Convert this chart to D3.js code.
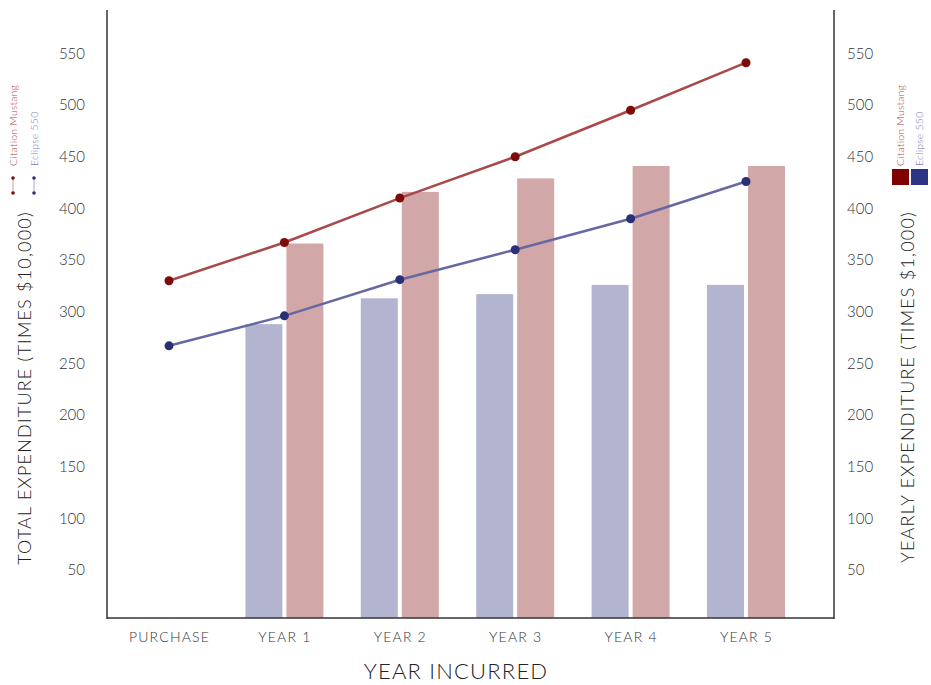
<!DOCTYPE html>
<html><head><meta charset="utf-8">
<script src="https://cdn.jsdelivr.net/npm/d3@7"></script>
<style>
body{margin:0;background:#fff;}
text{font-family:"Lato","Open Sans",sans-serif;font-weight:300;}
</style></head>
<body><svg id="c" width="931" height="685"></svg>
<script>
const categories = ["PURCHASE","YEAR 1","YEAR 2","YEAR 3","YEAR 4","YEAR 5"];
const seriesNames = ["Citation Mustang","Eclipse 550"];
const totalMustang = [330, 367, 410, 450, 495, 541];
const totalEclipse = [267, 296, 331, 360, 390, 426];
const yearlyMustang = [null, 366, 416, 429, 441, 441];
const yearlyEclipse = [null, 288, 313, 317, 326, 326];
const yTicks = [50,100,150,200,250,300,350,400,450,500,550];

(function(){
const svg = d3.select("#c");
const L = 107, R = 834, T = 10, B = 618;
const x = d3.scalePoint().domain(categories).range([169, 746]);
const y = d3.scaleLinear().domain([0, 592]).range([621.7, T]);
const yR = d3.scaleLinear().domain([0, 592]).range([621.7, T]);

const cBarE = "#b3b5d0", cBarM = "#d2a7a7";
const cLineM = "#a84a4a", cLineE = "#6668a3";
const cPtM = "#7f0a0a", cPtE = "#2b2f78";
const txt = "#333";

// bars
const bw = 37, gap = 4;
categories.forEach((c,i)=>{
  if (yearlyEclipse[i] != null) {
    svg.append("rect").attr("x", x(c)-gap/2-bw).attr("y", yR(yearlyEclipse[i]))
      .attr("width", bw).attr("height", B - yR(yearlyEclipse[i])).attr("fill", cBarE);
  }
  if (yearlyMustang[i] != null) {
    svg.append("rect").attr("x", x(c)+gap/2).attr("y", yR(yearlyMustang[i]))
      .attr("width", bw).attr("height", B - yR(yearlyMustang[i])).attr("fill", cBarM);
  }
});

// lines
const line = d3.line().x((d,i)=>x(categories[i])).y(d=>y(d));
svg.append("path").datum(totalMustang).attr("d", line).attr("fill","none").attr("stroke",cLineM).attr("stroke-width",2.5);
svg.append("path").datum(totalEclipse).attr("d", line).attr("fill","none").attr("stroke",cLineE).attr("stroke-width",2.5);
svg.selectAll(".pm").data(totalMustang).enter().append("circle").attr("cx",(d,i)=>x(categories[i])).attr("cy",d=>y(d)).attr("r",4.5).attr("fill",cPtM);
svg.selectAll(".pe").data(totalEclipse).enter().append("circle").attr("cx",(d,i)=>x(categories[i])).attr("cy",d=>y(d)).attr("r",4.5).attr("fill",cPtE);

// axes
const axL = d3.axisLeft(y).tickValues(yTicks).tickSize(0).tickPadding(22);
const gL = svg.append("g").attr("transform",`translate(${L},0)`).call(axL);
gL.select(".domain").remove();
gL.selectAll("text").attr("fill",txt).style("font-size","15px").style("font-family","Lato").style("font-weight",300);
const axR = d3.axisRight(yR).tickValues(yTicks).tickSize(0).tickPadding(13);
const gR = svg.append("g").attr("transform",`translate(${R},0)`).call(axR);
gR.select(".domain").remove();
gR.selectAll("text").attr("fill",txt).style("font-size","15px").style("font-family","Lato").style("font-weight",300);
const axB = d3.axisBottom(x).tickSize(0).tickPadding(14);
const gB = svg.append("g").attr("transform",`translate(0,${B})`).call(axB);
gB.select(".domain").remove();
gB.selectAll("text").attr("fill",txt).style("font-size","14px").style("font-family","Lato").style("font-weight",300)
  .style("letter-spacing","1.2px");

svg.append("line").attr("x1",L).attr("x2",L).attr("y1",T).attr("y2",B+1).attr("stroke","#333").attr("stroke-width",1.5);
svg.append("line").attr("x1",R).attr("x2",R).attr("y1",T).attr("y2",B+1).attr("stroke","#333").attr("stroke-width",1.5);
svg.append("line").attr("x1",L).attr("x2",R).attr("y1",B).attr("y2",B).attr("stroke","#333").attr("stroke-width",1.5);

// titles
svg.append("text").attr("x",456).attr("y",679).attr("text-anchor","middle").attr("fill","#222")
  .style("font-size","22px").style("letter-spacing","1.2px").text("YEAR INCURRED");
svg.append("text").attr("transform","translate(31,388) rotate(-90)").attr("text-anchor","middle").attr("fill","#222")
  .style("font-size","18px").style("letter-spacing","1.2px").text("TOTAL EXPENDITURE (TIMES $10,000)");
svg.append("text").attr("transform","translate(914,387) rotate(-90)").attr("text-anchor","middle").attr("fill","#222")
  .style("font-size","18px").style("letter-spacing","1.2px").text("YEARLY EXPENDITURE (TIMES $1,000)");

// left legend
const legCols = [cPtM, cPtE], legText = ["#b04848","#7a7ab8"];
seriesNames.forEach((n,i)=>{
  const lx = 13 + i*21;
  svg.append("text").attr("transform",`translate(${lx+3.5},166) rotate(-90)`).attr("fill",legText[i])
    .style("font-size","10.5px").style("letter-spacing","0.2px").text(n);
  svg.append("line").attr("x1",lx).attr("x2",lx).attr("y1",178).attr("y2",193).attr("stroke",legCols[i]).attr("stroke-width",0.8).attr("stroke-opacity",0.5);
  svg.append("circle").attr("cx",lx).attr("cy",178).attr("r",1.8).attr("fill",legCols[i]);
  svg.append("circle").attr("cx",lx).attr("cy",193).attr("r",1.8).attr("fill",legCols[i]);
});
// right legend
const sqCols = ["#800000","#2e3484"];
seriesNames.forEach((n,i)=>{
  const lx = 900 + i*19;
  svg.append("text").attr("transform",`translate(${lx+3.5},166) rotate(-90)`).attr("fill",legText[i])
    .style("font-size","10.5px").style("letter-spacing","0.2px").text(n);
  svg.append("rect").attr("x",lx-8).attr("y",169).attr("width",17).attr("height",16).attr("fill",sqCols[i]);
});
})();
</script></body></html>
